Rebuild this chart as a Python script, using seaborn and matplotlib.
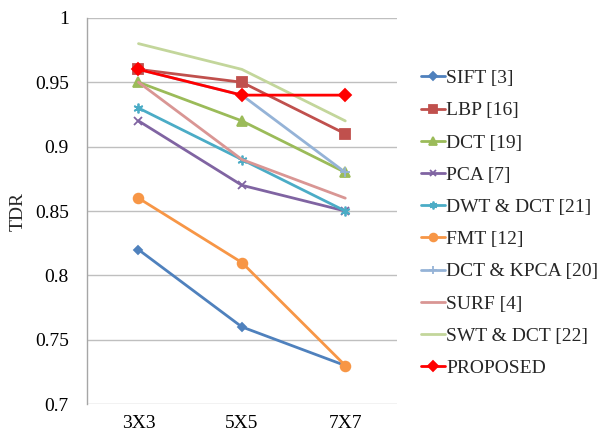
import matplotlib
matplotlib.use("Agg")
import matplotlib.pyplot as plt
import seaborn as sns
import pandas as pd

categories = ["3X3", "5X5", "7X7"]
sift = [0.82, 0.76, 0.73]
lbp = [0.96, 0.95, 0.91]
dct = [0.95, 0.92, 0.88]
pca = [0.92, 0.87, 0.85]
dwt_dct = [0.93, 0.89, 0.85]
fmt = [0.86, 0.81, 0.73]
dct_kpca = [0.96, 0.94, 0.88]
surf = [0.95, 0.89, 0.86]
swt_dct = [0.98, 0.96, 0.92]
proposed = [0.96, 0.94, 0.94]

names = ["SIFT [3]", "LBP [16]", "DCT [19]", "PCA [7]", "DWT & DCT [21]",
         "FMT [12]", "DCT & KPCA [20]", "SURF [4]", "SWT & DCT [22]", "PROPOSED"]
values = [sift, lbp, dct, pca, dwt_dct, fmt, dct_kpca, surf, swt_dct, proposed]
colors = ["#4F81BD", "#C0504D", "#9BBB59", "#8064A2", "#4BACC6",
          "#F79646", "#95B3D7", "#D99694", "#C3D69B", "#FF0000"]
markers = ["D", "s", "^", "x", (6, 2, 0), "o", "+", None, None, "D"]
msizes = [4.5, 7, 7, 6, 7, 7, 7, 0, 0, 6]

df = pd.DataFrame({
    "cat": categories * len(names),
    "val": [v for vals in values for v in vals],
    "series": [n for n in names for _ in categories],
})

sns.set_theme(style="white")
plt.rcParams["font.family"] = ["Liberation Serif", "DejaVu Serif"]

fig = plt.figure(figsize=(6.07, 4.36), dpi=100)
ax = fig.add_axes([0.143, 0.073, 0.511, 0.886])

for name, c, m, ms in zip(names, colors, markers, msizes):
    sub = df[df["series"] == name]
    kw = dict(marker=m, markersize=ms, markeredgecolor=c, markerfacecolor=c,
              markeredgewidth=1.3) if m is not None else {}
    sns.lineplot(data=sub, x="cat", y="val", ax=ax, color=c, linewidth=2,
                 label=name, sort=False, **kw)

ax.set_xlim(-0.5, 2.5)
ax.set_ylim(0.7, 1.0)
ax.set_yticks([0.7, 0.75, 0.8, 0.85, 0.9, 0.95, 1.0])
ax.set_yticklabels(["0.7", "0.75", "0.8", "0.85", "0.9", "0.95", "1"])
ax.yaxis.grid(True, color="#BFBFBF", linewidth=1)
ax.xaxis.grid(False)
for s in ["top", "right", "bottom"]:
    ax.spines[s].set_visible(False)
ax.spines["left"].set_color("#A6A6A6")
ax.spines["left"].set_linewidth(1)
ax.tick_params(axis="y", length=0, labelsize=14, colors="#000000", pad=13)
ax.tick_params(axis="x", length=0, labelsize=14, colors="#000000", pad=8)
ax.set_xlabel("")
ax.set_ylabel("TDR", fontsize=14, labelpad=6)

leg = ax.legend(loc="upper left", bbox_to_anchor=(1.053, 0.886), frameon=False,
                fontsize=14, handlelength=1.2, handletextpad=0.1,
                labelspacing=0.75, borderaxespad=0, markerscale=0.8)

fig.savefig("out.png", dpi=100)
